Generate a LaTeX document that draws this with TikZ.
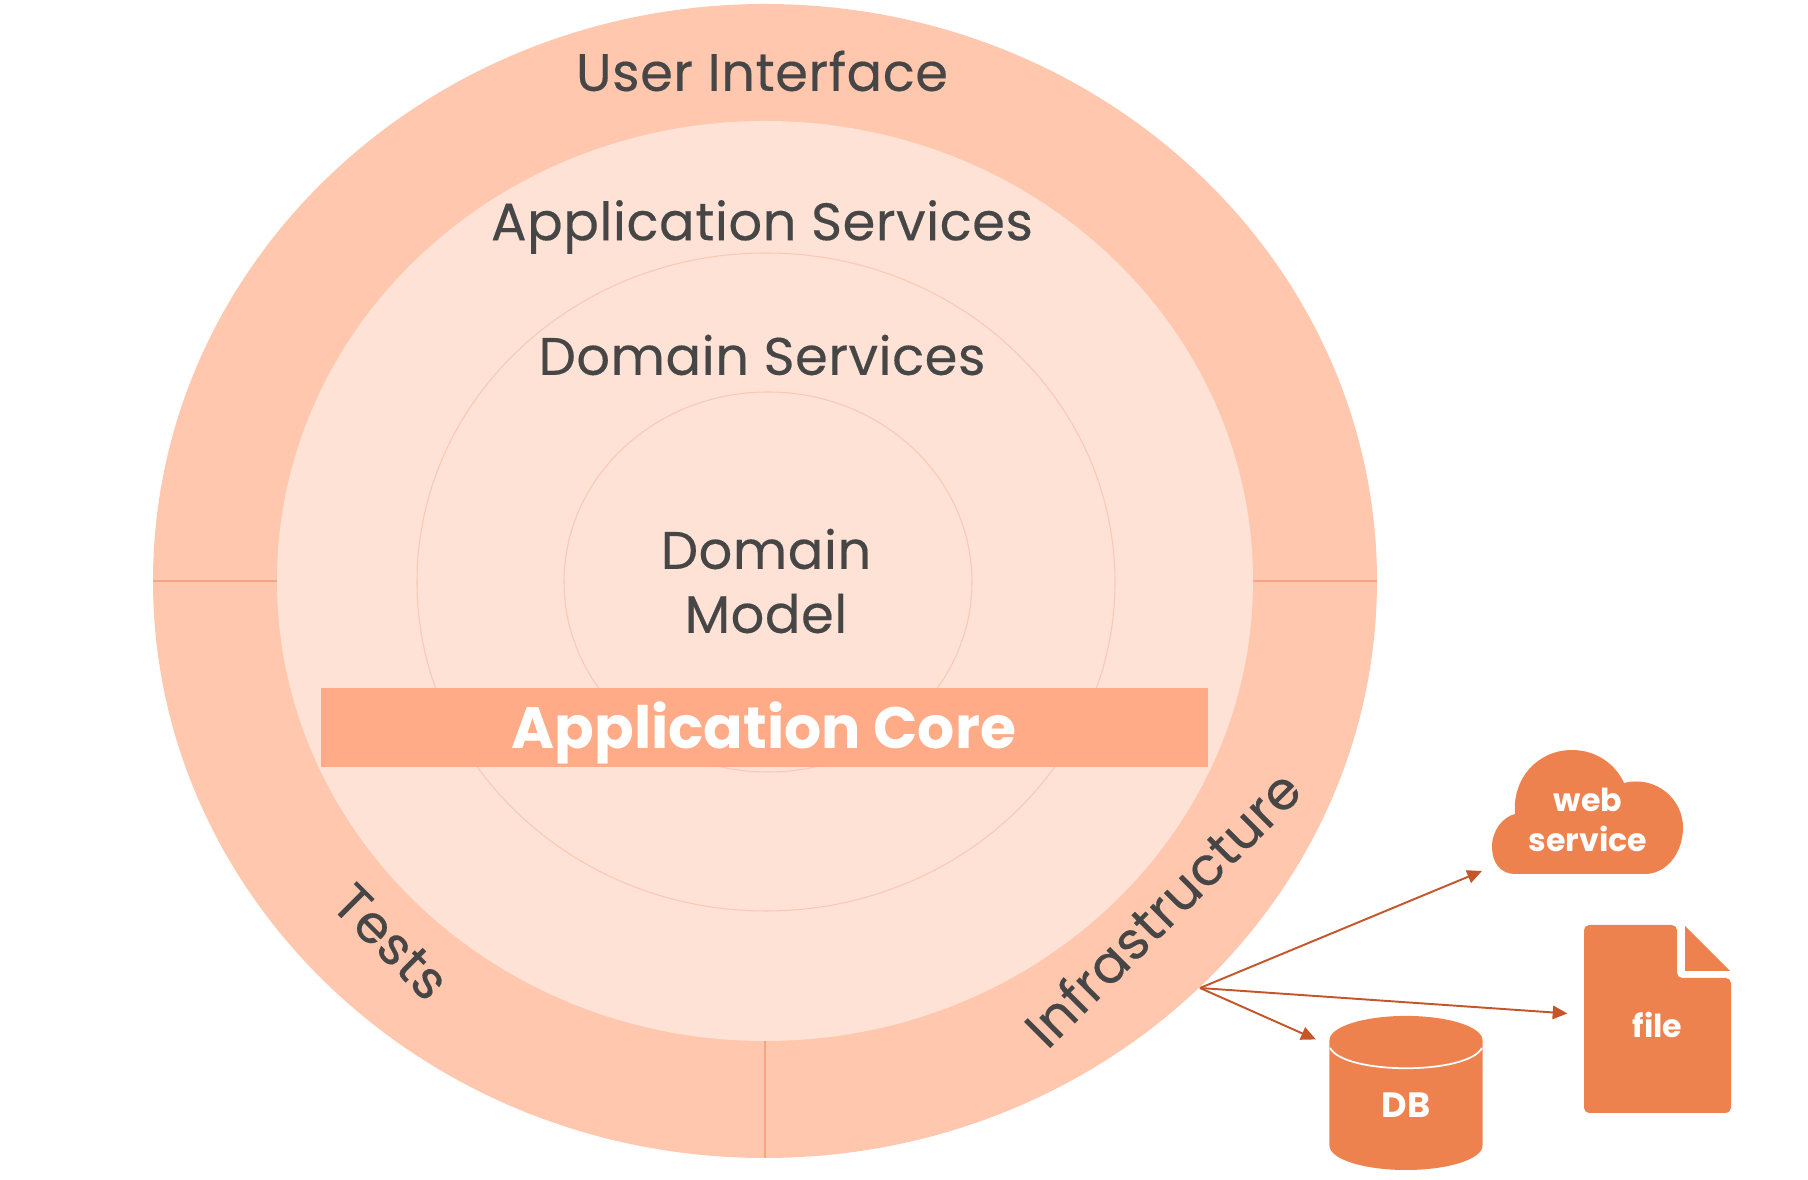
\documentclass[tikz,border=0pt]{standalone}
\usepackage{fontspec}
\usepackage{xcolor}
\usepackage{tikz}
\usetikzlibrary{arrows.meta, shapes.geometric}
\setmainfont{Poppins}
\newfontfamily\layerfont{Poppins}[FakeBold=0.3, LetterSpace=1.0]
\definecolor{ringouter}{HTML}{FFC7AE}
\definecolor{ringinner}{HTML}{FFE2D6}
\definecolor{ringline}{HTML}{F4A684}
\definecolor{coreline}{HTML}{F9C9B4}
\definecolor{corebar}{HTML}{FFAB87}
\definecolor{extfill}{HTML}{EE824F}
\definecolor{arrowcol}{HTML}{C4562A}
\definecolor{inktext}{HTML}{464646}
\tikzset{
    layertext/.style={font=\layerfont\fontsize{15}{18.2}\selectfont, text=inktext, inner sep=0pt, align=center},
    extshape/.style={fill=extfill, rounded corners=1.5pt},
    extlabel/.style={font=\fontsize{9}{11.4}\selectfont\bfseries, text=white, inner sep=0pt, align=center},
    uses/.style={arrowcol, line width=0.55pt, -{Triangle[length=4.2pt,width=3.8pt]}}
}

\begin{document}
\begin{tikzpicture}[x=0.01cm, y=-0.01cm]
    \useasboundingbox (0,0) rectangle (1808,1180);
    % rings
    \fill[ringouter] (765,581) ellipse [x radius=612, y radius=577];
    \draw[ringline, line width=0.3pt] (153,581) -- (277,581);
    \draw[ringline, line width=0.3pt] (1253,581) -- (1377,581);
    \draw[ringline, line width=0.3pt] (765,1041) -- (765,1158);
    \fill[ringinner] (765,581) ellipse [x radius=488, y radius=460];
    \foreach \cx/\rx/\ry in {766/349/329, 768/204/190} {
        \draw[coreline, line width=0.3pt] (\cx,582) ellipse [x radius=\rx, y radius=\ry];
    }
    % application core bar
    \node[fill=corebar, minimum width=8.87cm, minimum height=0.78cm, inner sep=0pt] (corebar) at (764.5,727.5) {};
    % layer labels
    \node[layertext] (ui) at (762,71) {User Interface};
    \node[layertext] (appservices) at (762,227) {Application Services};
    \node[layertext] (domservices) at (762,355) {Domain Services};
    \node[layertext] (dommodel) at (766,581) {Domain\\Model};
    \node[layertext, text=white, font=\fontsize{16.6}{18}\selectfont\bfseries] (core) at (764,733) {Application Core};
    \node[layertext, rotate=-45] (tests) at (391,942) {Tests};
    \node[layertext, rotate=45] (infra) at (1162,908) {Infrastructure};
    % web service cloud
    \fill[extfill] (1515,874) .. controls (1500,874) and (1492,862) .. (1492,847)
        .. controls (1492,830) and (1503,817) .. (1515,814)
        .. controls (1512,778) and (1538,750) .. (1572,750)
        .. controls (1597,750) and (1616,765) .. (1624,783)
        .. controls (1657,775) and (1683,800) .. (1683,827)
        .. controls (1683,855) and (1665,874) .. (1645,874) -- cycle;
    \node[extlabel, minimum width=1.91cm, minimum height=1.09cm] (web) at (1588,820) {web\\service};
    % file
    \fill[extshape] (1584,925) -- (1677,925) -- (1677,978) -- (1731,978) -- (1731,1113) -- (1584,1113) -- cycle;
    \fill[extfill] (1685,926) -- (1730,971) -- (1685,971) -- cycle;
    \node[extlabel, minimum width=1.47cm, minimum height=1.76cm] (file) at (1657.5,1025) {file};
    % database
    \node[cylinder, shape border rotate=90, aspect=1.0, fill=extfill, minimum width=1.53cm, minimum height=1.54cm,
        inner sep=0pt, text=white, font=\fontsize{10}{11}\selectfont\bfseries] (db) at (1406,1105.5) {DB};
    \draw[white, line width=0.5pt] (1330,1048) .. controls (1345,1075) and (1467,1075) .. (1482,1048);
    % connections
    \coordinate (hub) at (1200,988);
    \draw[uses, shorten >=3pt] (hub) -- (web.206);
    \draw[uses, shorten >=4.5pt] (hub) -- (file.172);
    \draw[uses, shorten >=4pt] (hub) -- (db.142);
\end{tikzpicture}
\end{document}
